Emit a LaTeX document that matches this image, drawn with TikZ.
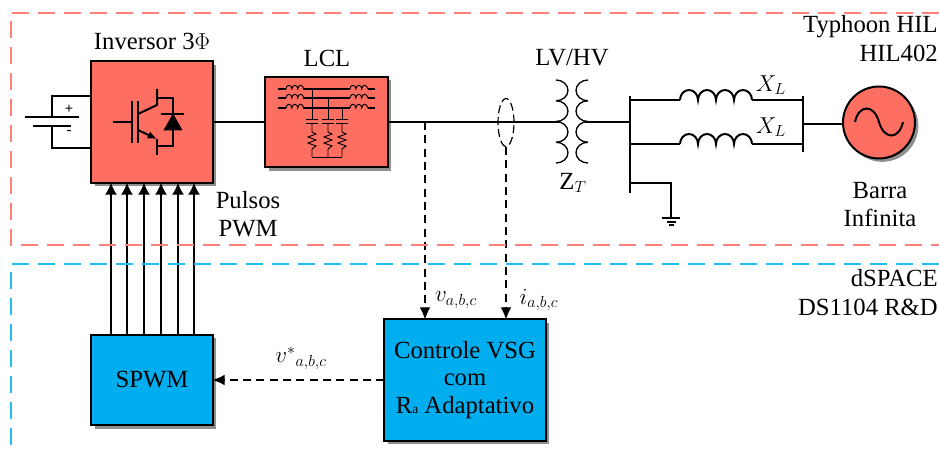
\documentclass[tikz,border=0pt]{standalone}
\usepackage{fontspec}
\setmainfont{Liberation Serif}
\usetikzlibrary{shapes,arrows.meta,positioning,calc,shadows}
\definecolor{hilred}{HTML}{FF6F61}
\definecolor{hildash}{HTML}{FF8078}
\definecolor{dspblue}{HTML}{00AEEF}
\definecolor{dspdash}{HTML}{22BDF5}

\begin{document}
\begin{tikzpicture}[
  x=0.75pt, y=-0.75pt,
  boxshadow/.style={drop shadow={shadow xshift=2.5pt, shadow yshift=-2.5pt,
                    fill=black!80, opacity=0.55}},
  block/.style={rectangle, draw, line width=1.5pt, outer sep=0pt, align=center,
                font=\fontsize{18.5}{20.6}\selectfont, boxshadow},
  hilblock/.style={block, fill=hilred},
  dspblock/.style={block, fill=dspblue},
  label/.style={font=\fontsize{18.5}{20.6}\selectfont, align=center, inner sep=0pt},
  polarity/.style={font=\fontsize{11}{11}\selectfont\bfseries, inner sep=0pt},
  region/.style={line width=1.7pt, dash pattern=on 12.5pt off 7pt},
  wire/.style={draw, line width=1.5pt},
  thinwire/.style={draw, line width=0.7pt},
  pulse/.style={draw, line width=1.4pt, -{Latex[length=9pt, width=9pt]}},
  meas/.style={draw, line width=0.8pt, dash pattern=on 6pt off 4pt,
               -{Latex[length=9pt, width=8pt]}},
]
  \useasboundingbox (0,0) rectangle (939,452);
  \clip (0,0) rectangle (939,452);

  % MAIN BLOCKS
  \node[hilblock, minimum width=91pt, minimum height=91pt] (inv) at (152,122) {};
  \node[hilblock, minimum width=92pt, minimum height=68pt] (lcl) at (326.5,122) {};
  \node[dspblock, minimum width=91pt, minimum height=68pt] (spwm) at (152,380) {SPWM};
  \node[dspblock, minimum width=121pt, minimum height=91pt] (ctrl) at (465,380)
       {Controle VSG\\ com\\ R{\fontsize{10}{10}\selectfont a} Adaptativo};
  \node[circle, draw, line width=1.5pt, fill=hilred, minimum size=54pt, outer sep=0pt,
        boxshadow] (grid) at (879,122.5) {};

  % LABELS
  \node[label] (invlabel) at (152,41) {Inversor 3$\Phi$};
  \node[label] (lcllabel) at (327,58) {LCL};
  \node[label] (tflabel) at (572,58) {LV/HV};
  \node[label] (ztlabel) at (573,183) {Z$_{T}$};
  \node[label] (pwmlabel) at (248,214) {Pulsos\\ PWM};
  \node[label] (barra) at (880,204.5) {Barra\\ Infinita};
  \node[label, anchor=east] (hil1) at (938,27) {Typhoon HIL};
  \node[label, anchor=east] (hil2) at (938,53) {HIL402};
  \node[label, anchor=east] (dsp1) at (938,278) {dSPACE};
  \node[label, anchor=east] (dsp2) at (938,307) {DS1104 R\&D};
  \node[label] (xl1) at (771,85) {$X_{L}$};
  \node[label] (xl2) at (771,127) {$X_{L}$};
  \node[label] (vlabel) at (456,300) {$v_{a,b,c}$};
  \node[label] (ilabel) at (539,300) {$i_{a,b,c}$};
  \node[label] (vref) at (301,358) {$v^{*}{}_{a,b,c}$};
  \node[polarity] (plus) at (69,109) {+};
  \node[polarity] (minus) at (69,132) {-};

  % BATTERY
  \coordinate (batp) at (52,117);
  \coordinate (batn) at (52,126);
  \draw[wire] (25,117) -- (79,117);
  \draw[wire] (33,126) -- (71,126);
  \draw[thinwire, line width=1pt] (batp) |- (inv.west |- 0,96);
  \draw[thinwire, line width=1pt] (batn) |- (inv.west |- 0,148);

  % IGBT AND DIODE
  \draw[wire] (113,122) -- (132,122);
  \draw[wire] (132,101) -- (132,143);
  \draw[wire] (138,101) -- (138,143);
  \draw[wire] (138,114) -- (157,105) -- (157,89);
  \draw[wire] (157,155) -- (157,139);
  \draw[wire, -{Latex[length=7pt, width=6pt]}] (138,130) -- (157,139);
  \draw[wire] (157,98) -- (173,98) -- (173,146) -- (157,146);
  \draw[wire] (161,114) -- (184,114);
  \draw[fill=black] (173,114) -- (164,130) -- (182,130) -- cycle;

  % LCL FILTER
  \foreach \py/\px in {89/312, 98/328, 108/342} {
    \draw[thinwire, line width=1pt] (278,\py) -- (286,\py);
    \draw[thinwire, line width=1pt] (303,\py) -- (350,\py);
    \draw[thinwire, line width=1pt] (368,\py) -- (375,\py);
    \foreach \qx in {286,350} {
      \draw[thinwire] (\qx,\py)
        \foreach \k in {1,2,3} { arc[start angle=180, end angle=0, x radius=2.2pt, y radius=2.8pt] };
    }
    \draw[thinwire] (\px,\py) -- (\px,119);
    \draw[thinwire] (\px-6,119) -- (\px+6,119);
    \draw[thinwire] (\px-6,123) -- (\px+6,123);
    \draw[thinwire] (\px,123) -- (\px,132) -- (\px+4,134) -- (\px-4,137) -- (\px+4,140)
      -- (\px-4,143) -- (\px+4,146) -- (\px,149) -- (\px,157);
  }
  \draw[thinwire] (312,157) -- (342,157);

  % TRANSFORMER
  \coordinate (tfleft) at (560,122);
  \coordinate (tfright) at (585,122);
  \foreach \k in {0,1,2,3} {
    \draw[thinwire, line width=1pt] (556,80+20.75*\k)
      arc[start angle=90, end angle=-90, x radius=9pt, y radius=7.8pt];
    \draw[thinwire, line width=1pt] (588,80+20.75*\k)
      arc[start angle=90, end angle=270, x radius=9pt, y radius=7.8pt];
  }

  % BUSES AND LINES
  \coordinate (busa) at (630,122);
  \coordinate (busb) at (803,124);
  \coordinate (gnd) at (671,218);
  \draw[wire] (inv) -- (lcl);
  \draw[wire] (lcl) -- (tfleft);
  \draw[wire] (tfright) -- (busa);
  \draw[wire] (630,96) -- (630,193);
  \draw[wire] (803,96) -- (803,152);
  \draw[wire] (busb) -- (grid.west |- busb);
  \foreach \py in {100,144} {
    \draw[wire] (630,\py) -- (680,\py);
    \draw[wire] (680,\py)
      \foreach \k in {1,2,3,4} { arc[start angle=180, end angle=0, x radius=6.75pt, y radius=7.5pt] };
    \draw[wire] (752,\py) -- (803,\py);
  }

  % GROUND
  \draw[wire] (630,183) -| (gnd);
  \draw[wire] (662,218) -- (680,218);
  \draw[wire] (667,222) -- (676,222);
  \draw[wire] (669,225) -- (674,225);

  % SOURCE
  \draw[wire] (855,122) .. controls (859,104) and (874,104) .. (879,122)
              .. controls (884,140) and (899,140) .. (903,122);

  % SIGNALS
  \foreach \px in {111,127,144,161,178,194} {
    \coordinate (pwm) at (\px,0);
    \draw[pulse] (spwm.north -| pwm) -- (inv.south -| pwm);
  }
  \coordinate (vtap) at (425,122);
  \coordinate (itap) at (506,147);
  \node[ellipse, draw, line width=0.9pt, dash pattern=on 6pt off 3pt, minimum width=12pt,
        minimum height=36pt, inner sep=0pt] (ring) at (506,122.5) {};
  \draw[meas] (vtap) -- (ctrl.north -| vtap);
  \draw[meas] (itap) -- (ctrl.north -| itap);
  \draw[meas] (ctrl) -- (spwm);

  % REGIONS
  \draw[region, draw=hildash] (939,13) -- (11,13) -- (11,245) -- (939,245);
  \draw[region, draw=dspdash] (939,264) -- (11,264) -- (11,452);

\end{tikzpicture}
\end{document}
